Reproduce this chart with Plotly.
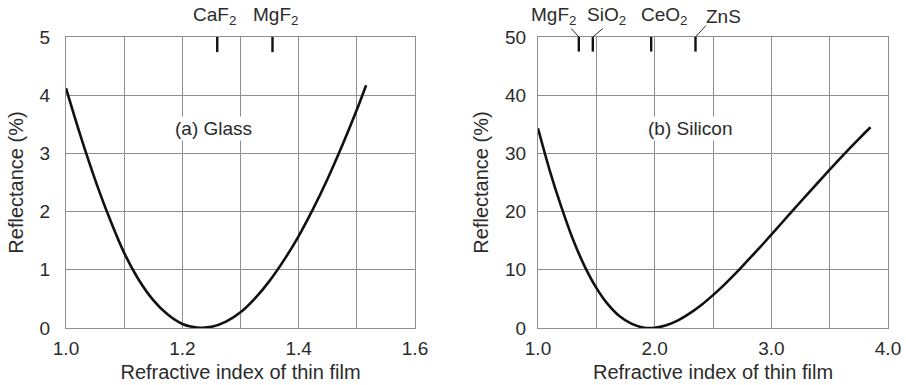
import plotly.graph_objects as go

# ---- data -------------------------------------------------------------
# (a) single-layer AR coating on glass: film index vs reflectance (%)
glass_n = [1.00, 1.025, 1.05, 1.075, 1.10, 1.125, 1.15, 1.175, 1.20, 1.225,
           1.25, 1.275, 1.30, 1.325, 1.35, 1.375, 1.40, 1.425, 1.45,
           1.475, 1.50, 1.516]
glass_r = [4.12, 3.30, 2.55, 1.88, 1.29, 0.83, 0.48, 0.23, 0.07, 0.01,
           0.02, 0.11, 0.27, 0.51, 0.81, 1.17, 1.58, 2.05, 2.57,
           3.14, 3.75, 4.17]

# (b) single-layer AR coating on silicon
si_n = [1.00, 1.10, 1.20, 1.30, 1.40, 1.50, 1.60, 1.70, 1.80, 1.90,
        2.00, 2.10, 2.20, 2.30, 2.40, 2.50, 2.60, 2.70, 2.80, 2.90,
        3.00, 3.10, 3.20, 3.30, 3.40, 3.50, 3.60, 3.70, 3.80, 3.85]
si_r = [34.3, 27.1, 20.8, 15.2, 10.6, 6.9, 4.05, 2.0, 0.74, 0.1,
        0.04, 0.46, 1.3, 2.5, 3.95, 5.65, 7.5, 9.5, 11.65, 13.8,
        16.05, 18.3, 20.55, 22.8, 25.0, 27.2, 29.35, 31.45, 33.5, 34.5]

# coating materials marked along the top edge
glass_mat = ["CaF<sub>2</sub>", "MgF<sub>2</sub>"]
glass_mat_n = [1.26, 1.355]
si_mat = ["MgF<sub>2</sub>", "SiO<sub>2</sub>", "CeO<sub>2</sub>", "ZnS"]
si_mat_n = [1.35, 1.47, 1.97, 2.35]

# axis ticks
glass_xgrid = [1.0, 1.1, 1.2, 1.3, 1.4, 1.5, 1.6]
glass_xlabels = ["1.0", "", "1.2", "", "1.4", "", "1.6"]
glass_ygrid = [0, 1, 2, 3, 4, 5]
si_xgrid = [1.0, 1.5, 2.0, 2.5, 3.0, 3.5, 4.0]
si_xlabels = ["1.0", "", "2.0", "", "3.0", "", "4.0"]
si_ygrid = [0, 10, 20, 30, 40, 50]

# ---- styling ----------------------------------------------------------
W, H = 906, 385
FONT = "Liberation Sans, Arial, sans-serif"
TXT = "#2b2b2b"
GRID = "#8e8e8e"
CURVE = "#111111"
TICK_FS = 19
TITLE_FS = 20

dom_x1 = [66 / W, 415 / W]
dom_x2 = [538 / W, 888 / W]
dom_y = [1 - 328 / H, 1 - 37 / H]
top = dom_y[1]

# label placement (offset from tick in data units) and leader offsets
glass_lab_dx = [-0.004, 0.006]
si_lab_dx = [-0.22, 0.12, 0.11, 0.24]
si_leader = [(-0.065, 0.022), (0.085, 0.022), None, (0.09, 0.030)]
lab_y = 1 - 16 / H

fig = go.Figure()
fig.add_trace(go.Scatter(x=glass_n, y=glass_r, mode="lines",
                         line=dict(color=CURVE, width=2.6, shape="spline", smoothing=1.0),
                         xaxis="x", yaxis="y", showlegend=False, hoverinfo="skip"))
fig.add_trace(go.Scatter(x=si_n, y=si_r, mode="lines",
                         line=dict(color=CURVE, width=2.6, shape="spline", smoothing=1.0),
                         xaxis="x2", yaxis="y2", showlegend=False, hoverinfo="skip"))

axis_common = dict(showgrid=True, gridcolor=GRID, gridwidth=1.2,
                   showline=True, linecolor=GRID, linewidth=1.2, mirror=True,
                   zeroline=False, ticks="outside", tickcolor="rgba(0,0,0,0)",
                   automargin=False,
                   tickfont=dict(family=FONT, size=TICK_FS, color=TXT))

xtitle = dict(text="Refractive index of thin film",
              font=dict(family=FONT, size=TITLE_FS, color=TXT), standoff=7)
ytitle = dict(text="Reflectance (%)",
              font=dict(family=FONT, size=TITLE_FS, color=TXT))

fig.update_layout(
    width=W, height=H,
    margin=dict(l=0, r=0, t=0, b=0),
    paper_bgcolor="white", plot_bgcolor="white",
    xaxis=dict(domain=dom_x1, range=[1.0, 1.6], tickmode="array",
               tickvals=glass_xgrid, ticktext=glass_xlabels, ticklen=3,
               anchor="y", title=xtitle, **axis_common),
    yaxis=dict(domain=dom_y, range=[0, 5], tickmode="array",
               tickvals=glass_ygrid, ticklen=11, anchor="x",
               title=dict(ytitle, standoff=10), **axis_common),
    xaxis2=dict(domain=dom_x2, range=[1.0, 4.0], tickmode="array",
                tickvals=si_xgrid, ticktext=si_xlabels, ticklen=3,
                anchor="y2", title=xtitle, **axis_common),
    yaxis2=dict(domain=dom_y, range=[0, 50], tickmode="array",
                tickvals=si_ygrid, ticklen=7, anchor="x2",
                title=dict(ytitle, standoff=10), **axis_common),
)

shapes = []
annotations = []

# material marks on (a)
for name, n, dx in zip(glass_mat, glass_mat_n, glass_lab_dx):
    shapes.append(dict(type="line", xref="x", yref="y", x0=n, x1=n,
                       y0=5, y1=4.74, line=dict(color=CURVE, width=2.4)))
    annotations.append(dict(xref="x", yref="paper", x=n + dx, y=lab_y,
                            text=name, showarrow=False, xanchor="center",
                            yanchor="middle",
                            font=dict(family=FONT, size=TICK_FS, color=TXT)))

# material marks on (b)
for name, n, dx, ld in zip(si_mat, si_mat_n, si_lab_dx, si_leader):
    shapes.append(dict(type="line", xref="x2", yref="y2", x0=n, x1=n,
                       y0=50, y1=47.5, line=dict(color=CURVE, width=2.4)))
    if ld is not None:
        shapes.append(dict(type="line", xref="x2", yref="paper", x0=n,
                           x1=n + ld[0], y0=top, y1=top + ld[1],
                           line=dict(color=TXT, width=1)))
    annotations.append(dict(xref="x2", yref="paper", x=n + dx, y=lab_y,
                            text=name, showarrow=False, xanchor="center",
                            yanchor="middle",
                            font=dict(family=FONT, size=TICK_FS, color=TXT)))

# panel captions
annotations.append(dict(xref="x", yref="y", x=1.253, y=3.42, text="(a) Glass",
                        showarrow=False, bgcolor="white",
                        font=dict(family=FONT, size=TICK_FS, color=TXT)))
annotations.append(dict(xref="x2", yref="y2", x=2.30, y=34.2, text="(b) Silicon",
                        showarrow=False, bgcolor="white",
                        font=dict(family=FONT, size=TICK_FS, color=TXT)))

fig.update_layout(shapes=shapes, annotations=annotations)
fig.write_html("out.html")
